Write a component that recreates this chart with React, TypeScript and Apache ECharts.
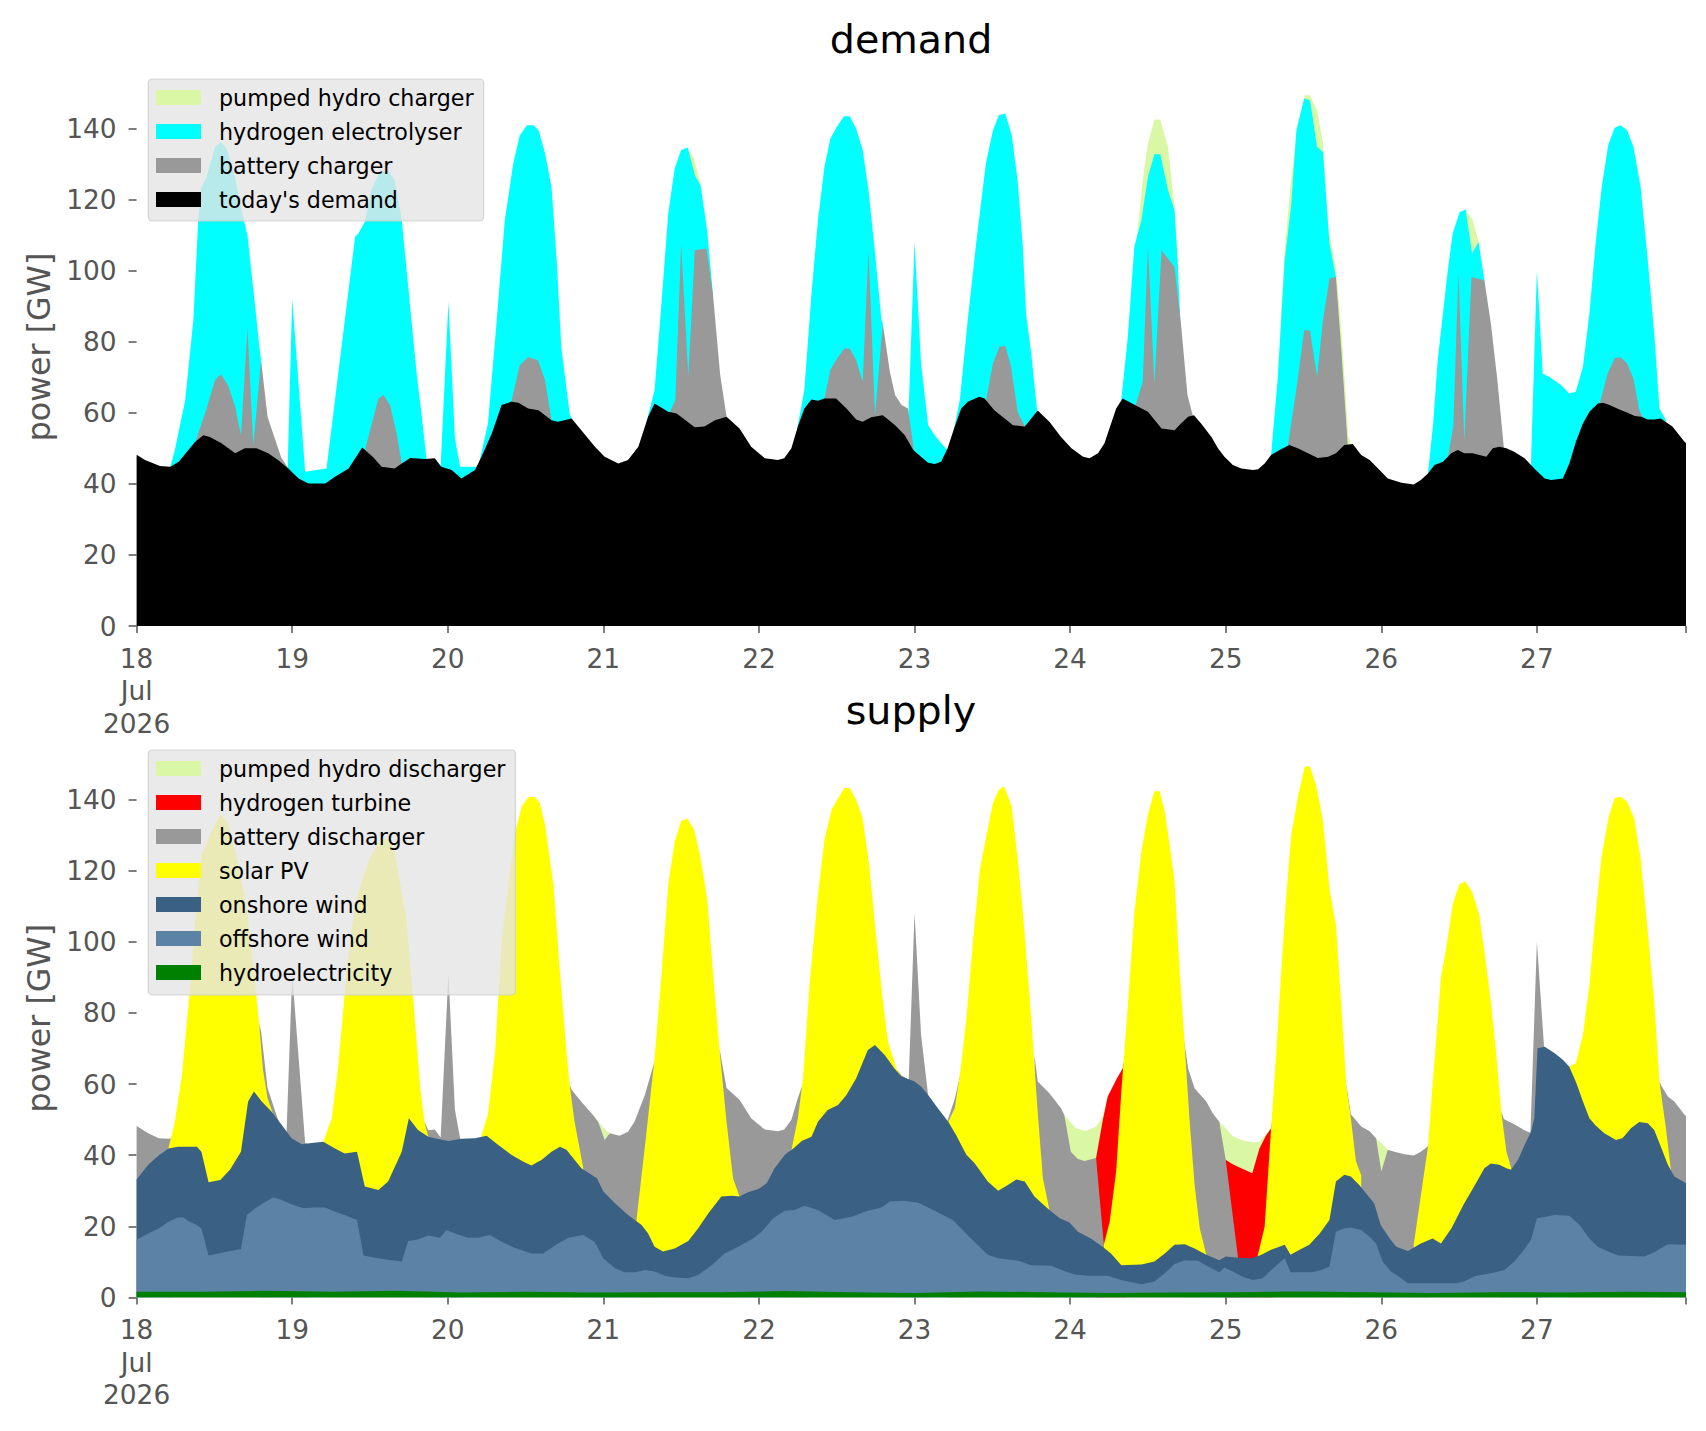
import React, { useEffect, useRef } from 'react';
import * as echarts from 'echarts';

type P = [number, number];

const FONT = 'DejaVu Sans';

// hours counted from 18 Jul 2026 00:00, values in GW (upper edge of each stacked layer)
const demandTop: P[] = [
  [0, 48.2], [1.3, 46.7], [3.6, 45], [5.2, 44.8], [6.5, 46.2], [9, 51.8], [10.3, 53.7], [11.3, 53.2], [13.1, 51.4],
  [15.2, 48.6], [16.7, 50], [18.5, 50], [20.3, 48.6], [21.8, 46.7], [23.4, 44.3], [25, 41.5], [26.5, 40.1], [29.1, 40.1],
  [30.6, 42], [32.7, 44.3], [34.8, 50.2], [36.5, 47.5], [37.8, 44.8], [39.8, 44.3], [40.9, 45.7], [42.2, 47.3], [44.5, 47],
  [46, 47.2], [47, 44.8], [48.6, 43.9], [50.1, 41.5], [52.2, 43.9], [53.2, 47.6], [54.8, 54.2], [56.3, 62.2], [57.8, 63.1],
  [58.9, 62.8], [60.4, 61.2], [62, 60.7], [64, 57.9], [65, 57.5], [67.1, 58.4], [68.6, 55.1], [70.7, 50.4], [72.2, 47.6],
  [74.3, 45.7], [75.8, 46.7], [77.4, 50.4], [78.9, 58.9], [79.9, 62.6], [82, 60.3], [83.3, 59.8], [86.1, 55.9], [87.6, 56.1],
  [89.2, 57.9], [91, 58.9], [93, 55.6], [94.8, 50.4], [96.9, 47.2], [98.9, 46.7], [99.9, 47.2], [101, 50], [102, 56.1],
  [103, 61.2], [104.1, 63.7], [105.1, 63.4], [106.1, 64], [107.9, 64], [109.5, 61.2], [111, 58.1], [112, 57.5], [113.3, 58.7],
  [115.1, 59.3], [117, 56.5], [118.5, 53.7], [119.8, 49.5], [121, 47.6], [122.1, 45.9], [123.1, 45.6], [124.1, 46.2],
  [125.1, 50], [126.2, 56.1], [127.2, 61.2], [128.2, 63.1], [130, 64.5], [130.8, 64], [132.3, 60.7], [133.9, 58.4],
  [135.2, 56.5], [137, 56.1], [139, 60.6], [140.8, 57.5], [142.6, 53.2], [144.2, 50], [146, 47.6], [147, 47.2], [148.3, 48.6],
  [149.3, 51.4], [151.1, 61.2], [152.1, 64], [154, 62.2], [156, 60.3], [158.1, 55.6], [160.1, 55.1], [161.1, 57], [162.2, 58.9],
  [163.1, 59.3], [164.2, 57], [165.8, 53.2], [166.8, 50], [167.8, 47.6], [169.1, 45.3], [170.4, 44.3], [172.2, 43.9],
  [173, 44.1], [174, 45.7], [175, 48.1], [176.3, 49.5], [177.8, 50.9], [179.1, 50], [180.7, 48.6], [182.2, 47.3], [183.8, 47.6],
  [185, 48.6], [186.3, 50.9], [187.6, 51.2], [188.9, 48.1], [190.2, 46.7], [191.5, 44.3], [193, 41.5], [195.1, 40.3],
  [197, 39.8], [198.1, 41.1], [199.2, 42.9], [200.2, 45.3], [201.5, 46.2], [202.8, 48.6], [203.8, 49.5], [204.8, 48.6],
  [206.1, 48.6], [208.2, 47.6], [209.2, 50], [210.2, 50.4], [211.3, 50], [212.5, 49], [214.1, 47.2], [215.6, 44.3],
  [217.2, 41.5], [218.2, 41.1], [220, 41.5], [221, 45.7], [222, 51.8], [223.1, 57], [224.1, 60.3], [225.4, 62.6],
  [226.2, 62.8], [227.2, 62.2], [229, 60.7], [230, 60], [231.1, 59.1], [232.1, 58.9], [233.1, 58.1], [234.1, 58.1],
  [235.1, 58.4], [236.9, 56.1], [238.8, 51.8], [239, 51.5],
];

const batteryChargerTop: P[][] = [
  [[9.2, 52.6], [10.8, 61.2], [12.1, 69.2], [13, 70.8], [14.1, 67.8], [15.2, 61.7], [16.1, 53.7], [17.1, 83.7], [18, 50.9],
    [19.2, 74.8], [20.2, 58.9], [21.3, 52.8], [22.3, 47.5], [23.4, 44.3]],
  [[35.3, 50.1], [37.3, 64], [38.1, 65], [39.1, 62.1], [40.1, 54.2], [40.9, 45.7]],
  [[57.8, 63.1], [59.1, 73.4], [60.4, 75.7], [61.9, 74.8], [63, 69.2], [64, 57.9]],
  [[82.3, 60.3], [83.1, 63.6], [84, 107.6], [85.1, 70.1], [86.1, 105.7], [87.9, 106.2], [88.9, 93.5], [90, 71], [91, 58.9]],
  [[106.1, 64], [107, 72], [108.2, 75.7], [109.2, 78.1], [110, 78.1], [111, 74.8], [112, 68.7], [112.9, 105.7], [113.9, 59.3],
    [115.1, 85.1], [116.2, 71.5], [117, 65], [118, 62.2], [119, 61.2], [119.9, 49.5]],
  [[131.1, 64.2], [132.1, 73.9], [133.1, 78.6], [134, 78.8], [134.9, 72.9], [135.9, 60.3], [137, 56.1]],
  [[154.1, 62.2], [155.2, 68.7], [156, 106.7], [157, 68.3], [158.1, 105.7], [160.1, 101], [161.1, 85], [162.1, 65], [162.9, 59.3]],
  [[177.6, 50.8], [179.1, 69.2], [180.1, 83.2], [181, 83.1], [182.1, 70.1], [183, 86], [184, 97.8], [185, 98.2], [185.8, 78.6],
    [186.8, 51.5]],
  [[202.3, 47.8], [203.1, 56.1], [203.9, 99.6], [204.8, 52.3], [205.9, 98.2], [207.9, 97.3], [208.9, 85.1], [209.9, 69.2],
    [210.9, 50.2]],
  [[225.7, 62.7], [226.9, 71], [228, 75.3], [228.9, 75.6], [229.9, 73.9], [230.9, 69.6], [231.8, 60.7], [232.3, 58.9]],
];

const electrolyserTop: P[][] = [
  [[5.2, 44.8], [5.9, 49.5], [7.5, 63.6], [8.75, 86], [9.5, 114], [10, 123.5], [10.8, 126.4], [12.1, 134.8], [13, 136.2],
    [13.9, 134.3], [15.2, 126], [16.3, 116], [17.1, 110], [17.8, 98], [18.4, 88], [18.9, 79], [19.2, 74.8]],
  [[23.3, 44.5], [24, 92], [26, 43.4], [29.3, 44.3], [33.7, 109.5], [34.2, 110.4], [35.2, 113.7], [36.2, 122.6], [37.5, 127.8],
    [38.8, 128.2], [39.8, 125.4], [40.9, 114.2], [41.9, 95.4], [43.2, 71], [44, 58.9], [44.7, 47.2]],
  [[46.9, 45], [48.1, 91.2], [49.1, 52.8], [49.9, 44.8], [52.7, 44.8], [54.2, 57], [55.5, 85], [56.8, 114.2], [58.1, 130.1],
    [59.1, 138], [60.2, 140.9], [61.2, 140.9], [62, 139.5], [63, 133], [64, 123.5], [64.8, 102.9], [65.5, 78.6], [66.8, 59.8],
    [67.1, 58.4]],
  [[78.6, 57], [79.9, 66.4], [81, 91.7], [82, 116], [83, 128.7], [84, 133.9], [85, 134.6], [86.1, 126.8], [87, 124], [88, 111.4],
    [88.9, 93.5]],
  [[101.9, 55.5], [103, 66.4], [104.1, 93.5], [105.1, 114.2], [106.1, 129.2], [107, 137.1], [108, 140.4], [109.1, 143.4],
    [110, 143.4], [111, 139.9], [112, 133.9], [112.9, 122.6], [113.9, 105], [114.9, 86], [115.1, 85.1]],
  [[119.1, 61.2], [120, 108.1], [121, 73.9], [122.1, 56.5], [123.1, 53.7], [124.1, 51.4], [125, 49.7]],
  [[126.1, 55.5], [127, 63.8], [128.2, 86], [129.5, 107.6], [131, 130.1], [132.1, 139.5], [133, 143.7], [134, 144.2], [135, 138],
    [135.9, 125.4], [136.7, 106.7], [137.2, 87.9], [138, 76.7], [138.9, 60.7]],
  [[151.9, 63.8], [152.9, 81.4], [153.9, 106.7], [155, 114.2], [156, 126.4], [157, 132.7], [157.9, 132.7], [159.1, 122.6],
    [160.1, 117], [160.6, 102], [161, 86]],
  [[175, 48.1], [176, 69.2], [177.1, 102.9], [178.1, 118.4], [178.9, 139.5], [180.1, 148.4], [181, 147.9], [182.1, 134.8],
    [183, 133.4], [184, 107.6], [185, 98.2]],
  [[199.2, 42.9], [200, 57], [200.7, 74.8], [202.2, 99.2], [203, 110.4], [204.1, 116.5], [205, 117.2], [206, 104.8], [207, 108.1],
    [207.9, 97.3]],
  [[215.1, 46.7], [216, 100.1], [216.9, 71], [217.9, 70.1], [219.7, 67.8], [221, 65.4], [222, 65.9], [223.1, 72.9], [224.1, 87.9],
    [225.1, 108.5], [226, 123.5], [227, 135.3], [228, 140.2], [228.9, 140.9], [229.9, 139.5], [230.9, 134.8], [232, 123.5],
    [233, 104.8], [234.1, 82.3], [234.9, 61.2], [235.9, 57.9]],
];

const pumpedChargerTop: P[][] = [
  [[84.97, 134.6], [86, 131.5], [87, 124.3]],
  [[153.7, 100], [154.2, 107.6], [155.2, 125.4], [156, 135.7], [157, 142.5], [157.9, 142.5], [159.1, 134.8], [160.1, 118],
    [160.6, 103]],
  [[176.5, 87], [177.1, 106], [178.1, 126], [179.1, 140.4], [180.2, 149.3], [181, 149.3], [182.1, 145.1], [183, 136],
    [183.8, 112], [185, 100.5], [185.9, 82], [186.9, 53.5], [187.3, 51.3]],
  [[205, 117.2], [206.1, 114.2], [207, 108.1]],
];

const hydroTop: P[] = [
  [0, 1.6], [10, 1.6], [20, 1.9], [30, 1.6], [40, 1.9], [50, 1.4], [60, 1.6], [70, 1.4], [80, 1.5], [90, 1.5], [100, 1.8],
  [110, 1.5], [120, 1.3], [130, 1.7], [140, 1.5], [150, 1.3], [160, 1.4], [170, 1.5], [180, 1.7], [190, 1.5], [200, 1.3],
  [210, 1.5], [220, 1.4], [230, 1.6], [239, 1.5],
];

const offshoreTop: P[] = [
  [0, 16.2], [1.8, 18], [3.4, 19.4], [4.9, 21.3], [6.4, 22.5], [7.2, 22.5], [8.2, 21.3], [9.3, 20.4], [10, 19.4], [11.1, 11.8],
  [12.6, 12.4], [14.1, 12.9], [16.1, 13.6], [17, 23.2], [18.3, 25.1], [19.5, 26.5], [21.1, 28.2], [22.4, 27.4], [23.9, 26.2],
  [25.7, 25.1], [27.5, 25.3], [29.1, 25.3], [30.6, 24.1], [32.1, 23.2], [34, 21.8], [35, 11.8], [36.8, 11.2], [38.8, 10.6],
  [40.9, 10.1], [41.9, 15.9], [43.2, 16.2], [45, 17.4], [46.8, 16.8], [47.8, 19], [49.1, 18], [51.1, 16.8], [52.7, 16.8],
  [54.5, 17.6], [56.3, 15.7], [58.3, 14], [60.9, 12.4], [62.7, 12.4], [64.8, 15], [66.6, 16.8], [68.9, 17.6], [70.7, 15.5],
  [72, 11], [73.8, 8.2], [75.3, 7.1], [76.9, 7.1], [78.4, 7.7], [79.9, 7.3], [81.5, 6.1], [83, 5.6], [85.1, 5.4], [86.6, 6.3],
  [88.7, 9.1], [90.7, 12.4], [92.8, 14.3], [95.1, 16.6], [96.4, 18.5], [98.2, 22.3], [100, 24.4], [101.5, 24.6], [103, 25.8],
  [105.1, 24.6], [107.7, 21.8], [110.3, 22.7], [112.8, 24.4], [114.9, 25.3], [116.2, 27], [118.2, 27.2], [120.5, 26.7],
  [123.1, 24.4], [125.9, 21.8], [128.7, 16.6], [131.3, 12], [132.9, 11], [136, 10.3], [138, 9.1], [141.1, 8.9], [143.2, 7.4],
  [144.7, 6.5], [146.8, 6.1], [149.8, 6.1], [151.9, 4.9], [155, 3.7], [157, 4.5], [158.6, 6.8], [160.1, 9.4], [161.7, 10.5],
  [163.7, 10.3], [165.3, 8.7], [167, 7.1], [167.8, 8.4], [169.1, 7.3], [170.9, 5.6], [172.2, 4.9], [173.7, 5.4], [175.3, 8.2],
  [177.1, 11], [178, 7.1], [179.7, 7.1], [181.4, 7.1], [182.7, 7.7], [184, 8.7], [185, 18.5], [186.3, 19.4], [187.3, 19.7],
  [188.9, 19], [190.2, 17.1], [191.2, 15.2], [192.2, 10.1], [193.5, 7.3], [195.1, 5.4], [196.1, 4], [198.7, 4], [201.2, 4],
  [203.6, 4], [204.8, 4.6], [206.6, 6.1], [208.9, 6.8], [211, 7.7], [212.5, 10.1], [213.8, 12.9], [215.1, 16.2], [216, 22.3],
  [217.4, 22.7], [218.7, 23.2], [221, 23], [222.6, 20.4], [224.1, 16.6], [225.4, 14.3], [227, 12.9], [228.5, 11.8],
  [230.5, 11.7], [232.6, 11.5], [234.1, 12.7], [236.2, 15], [239, 14.8],
];

const onshoreTop: P[] = [
  [0, 33.2], [1.8, 37.3], [3.4, 39.9], [4.9, 41.9], [6.4, 42.4], [8, 42.4], [9.3, 42.4], [10, 41], [11.1, 32.4], [12.9, 33],
  [14.4, 35.9], [16.1, 41], [17.2, 55.1], [18.1, 57.9], [19.3, 55.1], [20.8, 52.3], [22.4, 48.5], [23.9, 44.8], [25.5, 43.1],
  [27, 43.4], [28.8, 43.8], [30.6, 41.9], [32.1, 40.5], [34, 41], [35.2, 31.2], [37.3, 30.2], [38.8, 32.6], [40.9, 41],
  [42, 50.4], [43.4, 47.1], [45, 45.2], [46, 44.8], [48.1, 44], [50.1, 44.6], [52.2, 44.8], [54, 45.5], [55.8, 42.9],
  [57.8, 40.1], [59.6, 38.2], [60.9, 37.1], [62.5, 38.7], [64, 41], [65.3, 42.4], [66.3, 41.5], [68.6, 36.3], [71, 33.5],
  [72, 29.8], [73.8, 26.5], [75.8, 23.2], [77.9, 20.4], [78.9, 18], [79.9, 14.3], [81.2, 12.9], [83, 13.8], [85.1, 15.9],
  [86.6, 19.4], [88.2, 23.7], [90.2, 28.4], [91.8, 28.6], [93, 28.4], [94.3, 29.6], [95.9, 30.5], [97.2, 32.1], [98.4, 36.3],
  [100, 40.1], [101.3, 41.9], [102.6, 44], [104.1, 45.2], [105.1, 49.4], [106.6, 52.7], [108.2, 54.1], [109.5, 56.9],
  [111, 61.6], [112.8, 69.6], [113.9, 71], [115.4, 68.2], [116.9, 64.4], [118, 62.1], [120, 60.7], [121, 59.3], [122.1, 56.9],
  [123.6, 53.2], [125.2, 49.4], [126.4, 45.7], [128, 40.1], [129.3, 37.7], [131.3, 32.6], [132.9, 30], [134.4, 31.6],
  [135.7, 33.2], [137, 32.6], [138.5, 28.4], [140.8, 24.6], [142.4, 22.3], [143.9, 21.1], [145.2, 18.5], [147.2, 16.6],
  [149, 14.3], [150.3, 12.4], [151.9, 9.1], [155, 9.3], [157, 10.1], [158.6, 12.4], [160.1, 14.8], [161.7, 15], [163.2, 13.8],
  [165, 12], [167, 10.5], [168, 11.5], [169.9, 11.2], [172, 11], [173.5, 12], [175, 13.4], [177.1, 14.8], [178, 12],
  [179.4, 13.4], [180.9, 14.8], [182.5, 18], [184, 21.8], [185, 32.6], [186.3, 34.5], [187.3, 34], [188.6, 31.6], [190.9, 26.5],
  [191.9, 20.4], [193.3, 16.6], [194.3, 14.3], [196.1, 13.1], [198.1, 15.2], [199.9, 16.6], [201.2, 15.2], [202.8, 19.4],
  [204.8, 26.5], [206.6, 32.1], [207.9, 36.3], [208.9, 37.7], [210.2, 37.3], [211.3, 36.3], [212, 35.9], [213.1, 38.7],
  [214.1, 42.9], [215.1, 46.6], [215.6, 50.4], [216.1, 70.1], [217.2, 70.5], [218.7, 68.7], [220, 66.8], [221, 64.9],
  [222.1, 60.2], [223.1, 55.1], [224.1, 50.4], [225.1, 48.3], [226.4, 46.2], [228.2, 44.3], [229.2, 44.8], [230.5, 47.6],
  [231.8, 49.3], [233.1, 49], [234.1, 47.1], [235.2, 42], [236.2, 37.3], [237.2, 34], [239, 32.1],
];

const solarTop: P[][] = [
  [[4.9, 41.9], [5.9, 49.4], [7, 62.6], [8, 82.2], [9, 104.8], [10, 124.4], [11.3, 130], [13, 135.9], [14.1, 133.3], [15.2, 125.4],
    [16.4, 115], [17.1, 108], [17.8, 96], [18.4, 86], [18.9, 77], [19.5, 64], [20.2, 56], [21, 51.8]],
  [[28.8, 43.8], [30.1, 50.4], [31.1, 65], [32.4, 91.6], [33.7, 110.4], [34.7, 116.9], [36, 123.5], [37.5, 128.7], [38.8, 129.1],
    [39.8, 125.4], [40.7, 116], [41.6, 106.6], [42.7, 83.2], [43.7, 59.8], [44.4, 49.4], [45, 45.2]],
  [[53.2, 45.6], [54.2, 51.5], [55.3, 69.1], [56.3, 100], [57.3, 116], [58.3, 130], [59.4, 138], [60.4, 140.6], [61.4, 140.8],
    [62.2, 139], [63, 132.9], [64.3, 116], [65.3, 91.6], [66.3, 69.1], [66.8, 59.8], [67.5, 50], [68.9, 36.3]],
  [[77.1, 21.6], [78.5, 44], [79.9, 67.3], [81, 91.6], [82, 116], [83, 128.2], [84, 134], [85, 134.6], [86, 131.5], [87, 123.5],
    [88, 112.3], [88.9, 91.6], [89.9, 70], [91, 49.4], [92, 33.5], [93, 28.4]],
  [[101, 41.3], [102, 50.4], [102.8, 61.6], [103.8, 87.9], [105.1, 113.2], [106.1, 128.7], [107.2, 137.1], [108.2, 140.4],
    [109.2, 143.2], [110, 143.2], [111, 139.9], [112, 134.7], [113, 121.6], [113.9, 104.8], [114.9, 86.9], [115.9, 71.9],
    [116.7, 67.3], [117.2, 64.4], [118, 62.1]],
  [[125.2, 49.4], [126.2, 53.2], [127, 62.6], [128, 78.5], [129, 100], [130.1, 120.7], [131.1, 130], [132.1, 139], [133, 142.7],
    [133.8, 143.7], [135, 138], [135.9, 123.5], [136.7, 108.5], [137.2, 97.3], [138, 78.5], [138.5, 65], [139, 52],
    [139.8, 33.5], [140.8, 24.6]],
  [[149.2, 14.8], [150.1, 21.3], [151.1, 35.4], [151.9, 58], [152.4, 70], [152.9, 82], [153.9, 108], [155, 125.4], [156, 135.7],
    [157, 142.3], [157.8, 142.3], [158.6, 136.6], [159.6, 124], [160.1, 117], [160.9, 91.6], [161.4, 78.5], [161.9, 64.4],
    [162.4, 50.4], [163.2, 31.6], [164, 19.4], [165, 12]],
  [[172.9, 11.5], [174, 19.9], [175, 47.6], [175.8, 69.1], [176.5, 90], [177.3, 112], [178.1, 130], [179.1, 140.4], [180.2, 149.3],
    [181, 149.3], [182, 143.5], [183, 134], [184, 115], [185, 104.8], [185.8, 83.2], [186.6, 59.8], [187.3, 50.4], [188.1, 38.2],
    [188.9, 34.4]],
  [[197, 14.9], [198.1, 28.7], [199.2, 42.4], [199.9, 59.8], [200.7, 78], [201.2, 90], [202, 98.2], [203, 110.4], [204, 116],
    [204.9, 117], [206, 114.1], [207.1, 107.6], [207.9, 97.3], [208.9, 83.2], [209.7, 69.1], [210.5, 52.3], [211.3, 41],
    [212.1, 35.9]],
  [[221, 64.9], [222, 65.9], [223.1, 73.8], [224.1, 87.9], [225.1, 108.5], [226, 124.4], [227.1, 135.2], [228, 140.4],
    [228.9, 140.8], [229.9, 139.4], [231, 134.8], [232, 123.5], [233, 104.8], [234.1, 83.2], [234.9, 60.7], [235.9, 47.6],
    [236.7, 35.4]],
];

const batteryDischargerTop: P[][] = [
  [[0, 48.2], [1.8, 46.2], [3.4, 44.8], [4.9, 44.6], [5.3, 44.8]],
  [[18.9, 77], [19.2, 74.8], [20.2, 58.9], [21.3, 52.8], [22.3, 47.5], [23.1, 45], [24, 91], [26, 43.4], [26.6, 43]],
  [[44.4, 49.4], [45, 47], [46, 47.2], [46.9, 45], [48.1, 91.2], [49.1, 52.8], [49.9, 44.8], [50.4, 43.5]],
  [[66.8, 59.8], [67.1, 58.4], [68.6, 55], [70.4, 51.3], [71.2, 49.3], [72.2, 44.3], [73, 46.2], [74.5, 45.5], [75.8, 46.6],
    [76.8, 49.4], [78.4, 56.9], [79.9, 66.4], [80.4, 72]],
  [[89.9, 70], [91, 58.9], [93, 55.6], [94.8, 50.4], [96.9, 47.2], [98.9, 46.7], [99.9, 47.2], [101, 50], [102, 56.1], [103, 61.2],
    [103.5, 64]],
  [[117.2, 64.4], [118, 62.4], [119.1, 61.2], [120, 108.1], [121, 73.9], [122.1, 56.8], [122.5, 55]],
  [[125.1, 49.8], [126.2, 55.8], [127.2, 63.8], [127.6, 66]],
  [[138.5, 68], [139, 60.7], [140.8, 57.4], [142.6, 53.2], [143.1, 51.3], [144.1, 41], [145.2, 38.9], [146.2, 38.4], [148, 39.2],
    [149.2, 14.8]],
  [[161.6, 72], [162.2, 64.4], [163.2, 58.8], [165, 55.1], [166, 51.8], [167, 49.4], [168, 38.7], [169.9, 11.2]],
  [[186.6, 59.8], [187.3, 51.5], [188.9, 48.1], [190.2, 46.7], [191.2, 44.8], [192, 35.4], [193, 41.5], [194, 41], [195.6, 40.3],
    [197, 39.9], [198.1, 41], [199.1, 42.4], [199.5, 44]],
  [[210.5, 52.3], [210.9, 50.2], [212.5, 48.7], [214.1, 47], [215, 46.3], [216, 100], [217.1, 70.6], [217.5, 68]],
  [[234.9, 60.7], [235.2, 59.5], [236.2, 56.5], [237.2, 55.1], [238.8, 51.3], [239, 51]],
];

const turbineTop: P[][] = [
  [[148, 39.2], [149, 49.5], [149.8, 56.5], [151.1, 61.2], [152.1, 64.4], [152.5, 68]],
  [[168, 38.7], [169, 37.5], [170.4, 36.3], [172.1, 34.9], [173.2, 41.9], [174.2, 45.5], [175, 47.6], [175.4, 52]],
];

const pumpedDischargerTop: P[][] = [
  [[70.4, 51.3], [71.2, 49.5], [72.2, 47.3], [73, 46.2]],
  [[143.1, 51.3], [144.9, 47.6], [146.4, 46.8], [148, 48], [149, 50.9], [149.8, 56.5]],
  [[166.8, 49.8], [168, 47.6], [169, 45.5], [170.4, 44.3], [172.2, 43.6], [173.2, 43.8], [174.2, 45.9], [175, 47.6]],
  [[191.2, 44.8], [192, 43.4], [193, 41.5]],
];

const yTicks = [0, 20, 40, 60, 80, 100, 120, 140];
const firstDay = 18;

// segments are joined with a null point so the area breaks between them
const joinSegments = (segs: P[][]) => {
  const out: (number | null)[][] = [];
  segs.forEach((s, i) => {
    if (i > 0) {
      const prev = segs[i - 1];
      out.push([(prev[prev.length - 1][0] + s[0][0]) / 2, null]);
    }
    out.push(...s);
  });
  return out;
};

const area = (name: string, color: string, data: any[], idx: number) => ({
  name,
  type: 'line',
  xAxisIndex: idx,
  yAxisIndex: idx,
  data,
  symbol: 'none',
  showSymbol: false,
  connectNulls: false,
  silent: true,
  color,
  itemStyle: { color },
  lineStyle: { width: 0, color },
  areaStyle: { color, opacity: 1 },
  emphasis: { disabled: true },
});

const dayLabel = (v: number) => {
  if (v % 24 !== 0) return '';
  const d = firstDay + v / 24;
  return v === 0 ? `${d}\nJul\n2026` : String(d);
};

const xAxisFor = (idx: number) => ({
  type: 'value',
  gridIndex: idx,
  min: 0,
  max: 239,
  interval: 24,
  axisLine: { show: false },
  splitLine: { show: false },
  axisTick: { show: true, length: 7, lineStyle: { color: '#555555', width: 1.5 } },
  axisLabel: { formatter: dayLabel, color: '#555555', fontSize: 26.4, lineHeight: 32.5, margin: 16, fontFamily: FONT },
});

const yAxisFor = (idx: number) => ({
  type: 'value',
  gridIndex: idx,
  min: 0,
  max: 157,
  interval: 20,
  axisLine: { show: false },
  splitLine: { show: false },
  axisTick: { show: true, length: 8, customValues: yTicks, lineStyle: { color: '#555555', width: 1.5 } },
  axisLabel: {
    customValues: yTicks,
    formatter: (v: number) => (v % 20 === 0 ? String(v) : ''),
    color: '#555555',
    fontSize: 26.4,
    margin: 20,
    fontFamily: FONT,
  },
  name: 'power [GW]',
  nameLocation: 'middle',
  nameGap: 80,
  nameTextStyle: { color: '#555555', fontSize: 31.7, fontFamily: FONT },
});

const legendFor = (top: number, items: { name: string; color: string }[], padBottom: number) => ({
  orient: 'vertical',
  left: 148.3,
  top,
  icon: 'rect',
  itemWidth: 45,
  itemHeight: 15,
  itemGap: 10,
  selectedMode: false,
  padding: [6.5, 10, padBottom, 7.7],
  backgroundColor: 'rgba(229,229,229,0.8)',
  borderColor: 'rgba(204,204,204,0.8)',
  borderWidth: 1.2,
  borderRadius: 4,
  itemStyle: { borderWidth: 0 },
  textStyle: { fontSize: 22.2, color: '#000000', fontFamily: FONT, lineHeight: 24, padding: [0, 0, 0, 13] },
  data: items.map((it) => ({ name: it.name, itemStyle: { color: it.color } })),
});

const C = {
  pumped: '#d9f7a5',
  cyan: '#00ffff',
  battery: '#999999',
  black: '#000000',
  red: '#ff0000',
  solar: '#ffff00',
  onshore: '#3a6083',
  offshore: '#5c82a5',
  hydro: '#008000',
};

const App: React.FC = () => {
  const chartRef = useRef<HTMLDivElement | null>(null);

  useEffect(() => {
    document.body.style.margin = '0';
    if (!chartRef.current) return;
    const chart = echarts.init(chartRef.current, undefined, { renderer: 'svg' });

    const option = {
      animation: false,
      backgroundColor: '#ffffff',
      title: [
        { text: 'demand', left: 829.8, top: 18.8, padding: 0,
          textStyle: { fontSize: 39.6, lineHeight: 40, fontWeight: 'normal', color: '#000000', fontFamily: FONT } },
        { text: 'supply', left: 845.7, top: 689.8, padding: 0,
          textStyle: { fontSize: 39.6, lineHeight: 40, fontWeight: 'normal', color: '#000000', fontFamily: FONT } },
      ],
      grid: [
        { left: 136.6, top: 68, width: 1549.4, height: 558 },
        { left: 136.6, top: 739, width: 1549.4, height: 558.5 },
      ],
      xAxis: [xAxisFor(0), xAxisFor(1)],
      yAxis: [yAxisFor(0), yAxisFor(1)],
      legend: [
        legendFor(79, [
          { name: 'pumped hydro charger', color: C.pumped },
          { name: 'hydrogen electrolyser', color: C.cyan },
          { name: 'battery charger', color: C.battery },
          { name: "today's demand", color: C.black },
        ], 9.5),
        legendFor(750, [
          { name: 'pumped hydro discharger', color: C.pumped },
          { name: 'hydrogen turbine', color: C.red },
          { name: 'battery discharger', color: C.battery },
          { name: 'solar PV', color: C.solar },
          { name: 'onshore wind', color: C.onshore },
          { name: 'offshore wind', color: C.offshore },
          { name: 'hydroelectricity', color: C.hydro },
        ], 10.5),
      ],
      series: [
        area('pumped hydro charger', C.pumped, joinSegments(pumpedChargerTop), 0),
        area('hydrogen electrolyser', C.cyan, joinSegments(electrolyserTop), 0),
        area('battery charger', C.battery, joinSegments(batteryChargerTop), 0),
        area("today's demand", C.black, demandTop, 0),
        area('pumped hydro discharger', C.pumped, joinSegments(pumpedDischargerTop), 1),
        area('hydrogen turbine', C.red, joinSegments(turbineTop), 1),
        area('battery discharger', C.battery, joinSegments(batteryDischargerTop), 1),
        area('solar PV', C.solar, joinSegments(solarTop), 1),
        area('onshore wind', C.onshore, onshoreTop, 1),
        area('offshore wind', C.offshore, offshoreTop, 1),
        area('hydroelectricity', C.hydro, hydroTop, 1),
      ],
    };

    chart.setOption(option as any);

    return () => {
      chart.dispose();
    };
  }, []);

  return <div ref={chartRef} style={{ width: '1706px', height: '1431px' }}></div>;
};

export default App;
